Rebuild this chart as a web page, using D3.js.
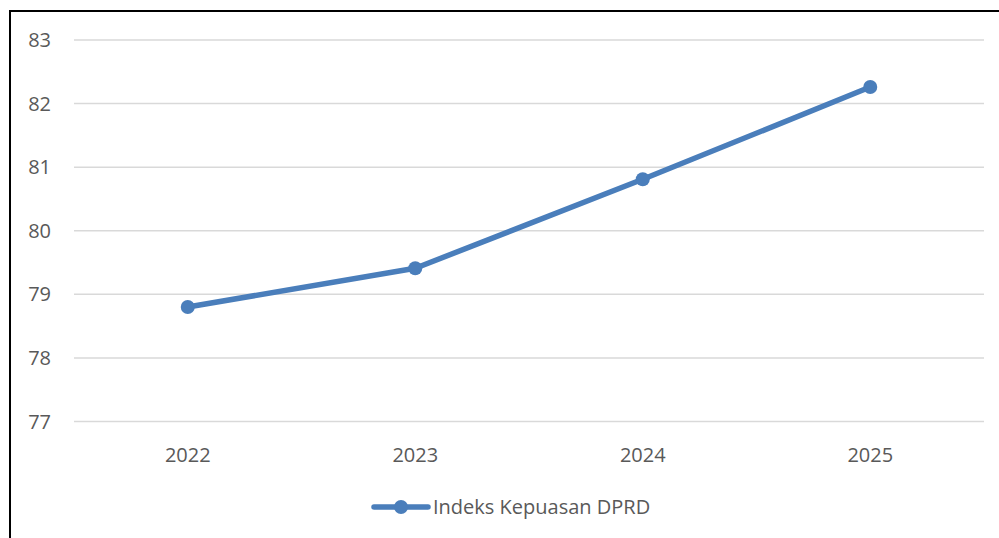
<!DOCTYPE html>
<html>
<head>
<meta charset="utf-8">
<script src="https://cdn.jsdelivr.net/npm/d3@7"></script>
<style>
  body { margin: 0; background: #fff; }
  svg { display: block; }
</style>
</head>
<body>
<svg id="chart" width="999" height="538"></svg>
<script>
// data
const years = ['2022', '2023', '2024', '2025'];
const values = [78.8, 79.41, 80.81, 82.26];
const yTicks = [77, 78, 79, 80, 81, 82, 83];
const seriesName = 'Indeks Kepuasan DPRD';

const svg = d3.select('#chart');
const font = '"Open Sans", sans-serif';
const fontSize = 20;
const color = '#4a7ebb';

//outer frame (only top and left show)
svg.append('rect')
  .attr('x', 10).attr('y', 11)
  .attr('width', 1200).attr('height', 800)
  .attr('fill', 'none')
  .attr('stroke', '#000')
  .attr('stroke-width', 2);

const plot = {left: 74, right: 984, top: 40, bottom: 421.5};

const x = d3.scaleBand().domain(years).range([plot.left, plot.right]);
const y = d3.scaleLinear().domain([77, 83]).range([plot.bottom, plot.top]);

//gridlines
svg.append('g')
  .selectAll('line')
  .data(yTicks)
  .join('line')
  .attr('x1', plot.left).attr('x2', plot.right)
  .attr('y1', d => y(d)).attr('y2', d => y(d))
  .attr('stroke', '#d9d9d9')
  .attr('stroke-width', 1.5);

//y labels
svg.append('g')
  .selectAll('text')
  .data(yTicks)
  .join('text')
  .attr('x', 51)
  .attr('y', d => y(d))
  .attr('dy', '0.35em')
  .attr('text-anchor', 'end')
  .attr('font-family', font)
  .attr('font-size', fontSize)
  .attr('fill', '#595959')
  .text(d => d);

//x labels
svg.append('g')
  .selectAll('text')
  .data(years)
  .join('text')
  .attr('x', d => x(d) + x.bandwidth() / 2)
  .attr('y', 455)
  .attr('dy', '0.35em')
  .attr('text-anchor', 'middle')
  .attr('font-family', font)
  .attr('font-size', fontSize)
  .attr('fill', '#595959')
  .text(d => d);

const pts = years.map((yr, i) => [x(yr) + x.bandwidth() / 2, y(values[i])]);

svg.append('path')
  .attr('d', d3.line()(pts))
  .attr('fill', 'none')
  .attr('stroke', color)
  .attr('stroke-width', 5.5)
  .attr('stroke-linejoin', 'round')
  .attr('stroke-linecap', 'round');

svg.append('g')
  .selectAll('circle')
  .data(pts)
  .join('circle')
  .attr('cx', d => d[0]).attr('cy', d => d[1])
  .attr('r', 7)
  .attr('fill', color);

//legend
const lg = svg.append('g').attr('transform', 'translate(374,507)');
lg.append('line')
  .attr('x1', 0).attr('x2', 54)
  .attr('stroke', color)
  .attr('stroke-width', 5.5)
  .attr('stroke-linecap', 'round');
lg.append('circle').attr('cx', 27).attr('r', 7).attr('fill', color);
lg.append('text')
  .attr('x', 59)
  .attr('dy', '0.35em')
  .attr('font-family', font)
  .attr('font-size', fontSize)
  .attr('fill', '#595959')
  .text(seriesName);
</script>
</body>
</html>
